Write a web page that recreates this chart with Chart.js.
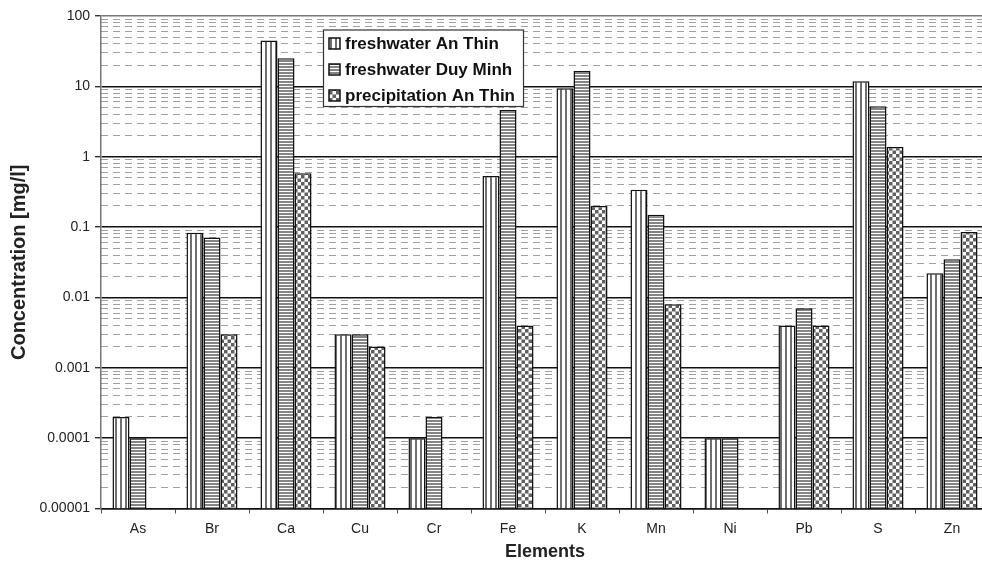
<!DOCTYPE html>
<html>
<head>
<meta charset="utf-8">
<script src="https://cdn.jsdelivr.net/npm/chart.js@4"></script>
<style>
  html, body { margin: 0; padding: 0; background: #fff; overflow: hidden; }
  #chartBox { position: relative; width: 990px; height: 569px; }
</style>
</head>
<body>
<div id="chartBox"><canvas id="myChart"></canvas></div>
<script>
  // data
  const elements = ['As', 'Br', 'Ca', 'Cu', 'Cr', 'Fe', 'K', 'Mn', 'Ni', 'Pb', 'S', 'Zn'];
  const freshAnThin   = [0.0002, 0.083, 45, 0.003, 0.0001, 0.53, 9.4, 0.34, 0.0001, 0.004, 11.8, 0.022];
  const freshDuyMinh  = [0.0001, 0.071, 25, 0.003, 0.0002, 4.6, 16.5, 0.15, 0.0001, 0.007, 5.2, 0.035];
  const precipAnThin  = [null, 0.003, 0.58, 0.002, null, 0.004, 0.2, 0.008, null, 0.004, 1.37, 0.085];
  const seriesNames = ['freshwater An Thin', 'freshwater Duy Minh', 'precipitation An Thin'];

  // y ticks
  const decadeValues = [0.00001, 0.0001, 0.001, 0.01, 0.1, 1, 10, 100];
  const decadeLabels = ['0.00001', '0.0001', '0.001', '0.01', '0.1', '1', '10', '100'];
  const minorSteps = [2, 3, 4, 5, 6, 7, 8, 9];

  const minorValues = [];
  decadeValues.slice(0, -1).forEach(d => minorSteps.forEach(m => minorValues.push(+(d * m).toPrecision(3))));

  const FONT = '"Liberation Sans", Arial, sans-serif';

  // patterns
  function makePattern(w, h, draw) {
    const c = document.createElement('canvas');
    c.width = w; c.height = h;
    const g = c.getContext('2d');
    g.fillStyle = '#fff';
    g.fillRect(0, 0, w, h);
    draw(g);
    return g.createPattern(c, 'repeat');
  }
  const vStripes = makePattern(5, 5, g => { g.fillStyle = '#707070'; g.fillRect(0, 0, 2, 5); });
  const hStripes = makePattern(3, 3, g => { g.fillStyle = '#858585'; g.fillRect(0, 0, 3, 2); });
  const checker = makePattern(7, 7, g => {
    g.fillStyle = '#606060';
    g.fillRect(0, 0, 3.5, 3.5);
    g.fillRect(3.5, 3.5, 3.5, 3.5);
  });
  const fills = [vStripes, hStripes, checker];

  // legend drawn over the plot
  const floatingLegend = {
    id: 'floatingLegend',
    afterDraw(chart) {
      const ctx = chart.ctx;
      const x = 323, y = 29.5, w = 200, h = 76.5;
      ctx.save();
      ctx.fillStyle = '#fff';
      ctx.fillRect(x, y, w, h);
      ctx.strokeStyle = '#333';
      ctx.lineWidth = 1.2;
      ctx.strokeRect(x + 0.5, y + 0.5, w, h);
      ctx.font = 'bold 17px ' + FONT;
      ctx.textBaseline = 'middle';
      chart.data.datasets.forEach((ds, i) => {
        const cy = y + 14 + i * 26;
        ctx.fillStyle = ds.backgroundColor;
        ctx.fillRect(x + 6, cy - 5.5, 11, 11);
        ctx.strokeStyle = '#111';
        ctx.lineWidth = 1.5;
        ctx.strokeRect(x + 6, cy - 5.5, 11, 11);
        ctx.fillStyle = '#111';
        ctx.fillText(ds.label, x + 22, cy + 1);
      });
      ctx.restore();
    }
  };

  const data = {
    labels: elements,
    datasets: [freshAnThin, freshDuyMinh, precipAnThin].map((vals, i) => ({
      label: seriesNames[i],
      data: vals,
      backgroundColor: fills[i],
      borderColor: '#111',
      borderWidth: 1.5,
      categoryPercentage: 0.69,
      barPercentage: 1.0
    }))
  };

  const config = {
    type: 'bar',
    data: data,
    options: {
      responsive: true,
      maintainAspectRatio: false,
      animation: false,
      layout: { padding: { top: 16, right: 1, left: 0, bottom: 0 } },
      plugins: {
        legend: { display: false },
        tooltip: { enabled: false }
      },
      scales: {
        x: {
          grid: { display: true, drawOnChartArea: false, drawTicks: true, tickLength: 5, color: '#555', offset: true },
          border: { display: true, color: '#111', width: 1.5 },
          ticks: {
            color: '#222',
            padding: 7,
            font: { family: FONT, size: 14 }
          },
          title: {
            display: true,
            text: 'Elements',
            color: '#222',
            font: { family: FONT, size: 18, weight: 'bold' },
            padding: { top: 0, bottom: 6 }
          },
          afterFit: s => { s.height = 60.5; }
        },
        yMinor: {
          type: 'logarithmic',
          position: 'left',
          min: 0.00001,
          max: 100,
          ticks: { display: false },
          grid: { color: '#a0a0a0', lineWidth: 1, drawTicks: false },
          border: { display: false, dash: [7, 5] },
          afterBuildTicks: s => { s.ticks = minorValues.map(v => ({ value: v })); },
          afterFit: s => { s.width = 0; }
        },
        y: {
          type: 'logarithmic',
          position: 'left',
          min: 0.00001,
          max: 100,
          grid: {
            color: ctx => (ctx.tick && ctx.tick.value === 100 ? '#777' : '#111'),
            lineWidth: 1.4,
            tickLength: 6,
            tickColor: '#333'
          },
          border: { display: true, color: '#777', width: 1.5 },
          ticks: {
            autoSkip: false,
            color: '#222',
            padding: 5,
            font: { family: FONT, size: 14 },
            callback: (value) => {
              const idx = decadeValues.findIndex(d => Math.abs(d - value) < d * 1e-6);
              return idx >= 0 ? decadeLabels[idx] : '';
            }
          },
          title: {
            display: true,
            text: 'Concentration [mg/l]',
            color: '#222',
            font: { family: FONT, size: 20, weight: 'bold' },
            padding: { top: 7, bottom: 0 }
          },
          afterBuildTicks: s => { s.ticks = decadeValues.map(v => ({ value: v, major: true })); },
          afterFit: s => { s.width = 101; }
        }
      }
    },
    plugins: [floatingLegend]
  };

  const myChart = new Chart(document.getElementById('myChart'), config);
</script>
</body>
</html>
